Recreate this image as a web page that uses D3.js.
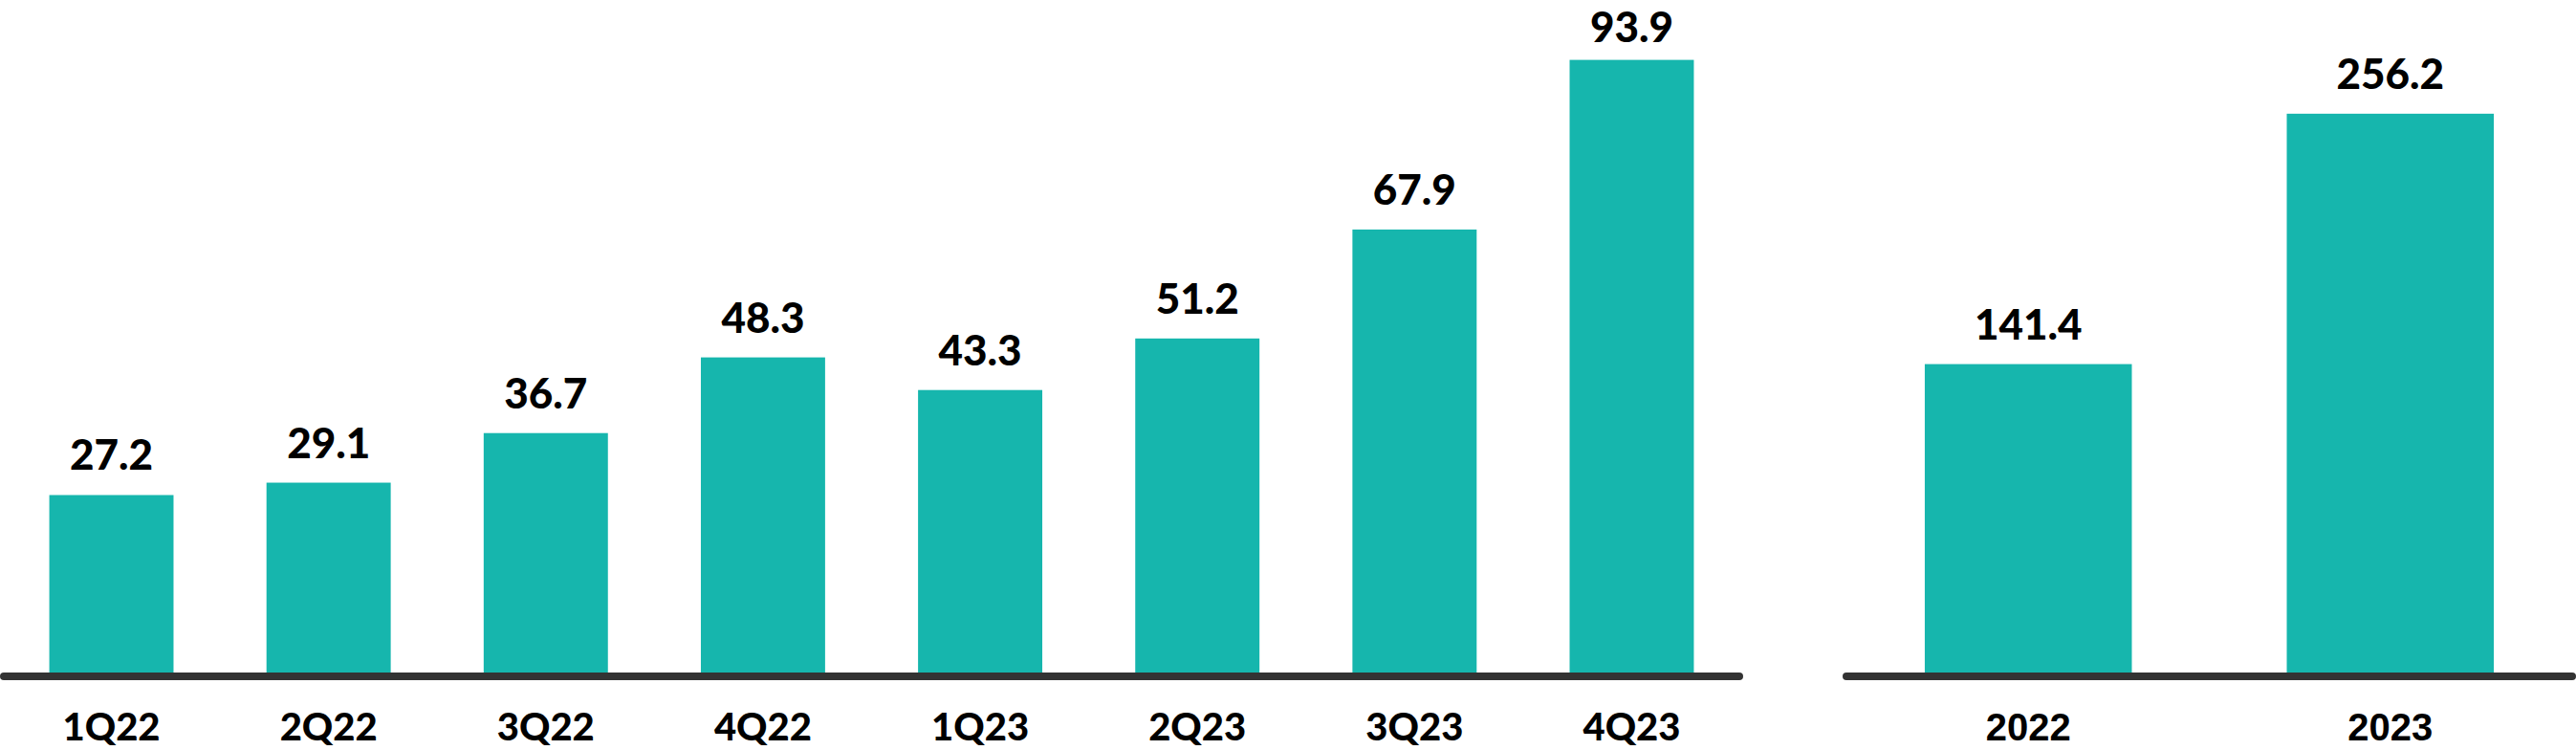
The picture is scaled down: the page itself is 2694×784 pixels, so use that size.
<!DOCTYPE html>
<html>
<head>
<meta charset="utf-8">
<script src="https://cdn.jsdelivr.net/npm/d3@7"></script>
<style>
  html, body { margin: 0; padding: 0; background: #ffffff; }
  svg { display: block; }
</style>
</head>
<body>
<script>
// Quarterly data
const quarters = ["1Q22", "2Q22", "3Q22", "4Q22", "1Q23", "2Q23", "3Q23", "4Q23"];
const quarterValues = [27.2, 29.1, 36.7, 48.3, 43.3, 51.2, 67.9, 93.9];
// Annual data
const years = ["2022", "2023"];
const yearValues = [141.4, 256.2];

const W = 2694, H = 784;
const barColor = "#16B6AD";
const axisColor = "#333333";
const baseY = 703;

const svg = d3.select("body").append("svg").attr("width", W).attr("height", H);

function panel(cats, vals, xRange, yMax, yTop, catFont, catSize) {
  const x = d3.scaleBand().domain(cats).range(xRange).paddingInner(0.428).paddingOuter(0.227);
  const y = d3.scaleLinear().domain([0, yMax]).range([baseY, yTop]);
  const g = svg.append("g");
  const data = cats.map((c, i) => ({ c, v: vals[i] }));

  g.selectAll("rect").data(data).enter().append("rect")
    .attr("x", d => x(d.c))
    .attr("y", d => y(d.v))
    .attr("width", x.bandwidth())
    .attr("height", d => baseY + 4 - y(d.v))
    .attr("fill", barColor);

  g.selectAll("text.val").data(data).enter().append("text")
    .attr("class", "val")
    .attr("x", d => x(d.c) + x.bandwidth() / 2)
    .attr("y", d => Math.max(y(d.v) - 26, 44))
    .attr("text-anchor", "middle")
    .attr("font-family", "Lato, 'Noto Sans', sans-serif")
    .attr("font-weight", 900)
    .attr("font-size", 44)
    .attr("fill", "#000")
    .text(d => d.v.toFixed(1));

  // baseline
  g.append("line")
    .attr("x1", xRange[0] + 4).attr("x2", xRange[1] - 4)
    .attr("y1", 707).attr("y2", 707)
    .attr("stroke", axisColor).attr("stroke-width", 8)
    .attr("stroke-linecap", "round");

  g.selectAll("text.cat").data(data).enter().append("text")
    .attr("class", "cat")
    .attr("x", d => x(d.c) + x.bandwidth() / 2)
    .attr("y", 774)
    .attr("text-anchor", "middle")
    .attr("font-family", catFont)
    .attr("font-weight", 900)
    .attr("font-size", catSize)
    .attr("fill", "#000")
    .text(d => d.c);
}

panel(quarters, quarterValues, [0, 1823], 100, 21, "Lato, 'Noto Sans', sans-serif", 40);
panel(years, yearValues, [1927, 2694], 300, 19, "'Liberation Sans', Arial, sans-serif", 40);
</script>
</body>
</html>
